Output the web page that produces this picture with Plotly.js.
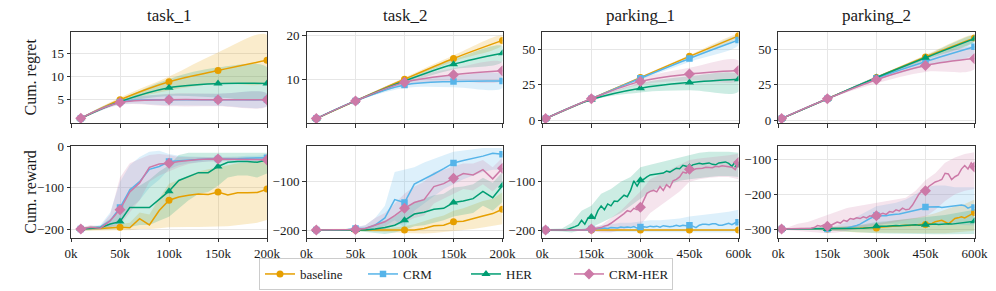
<!DOCTYPE html>
<html><head><meta charset="utf-8">
<script src="https://cdn.plot.ly/plotly-3.0.1.min.js"></script>
<style>html,body{margin:0;padding:0;background:#fff}#chart{width:996px;height:291px}</style>
</head><body><div id="chart"></div>
<script>
// ---------- categories / labels ----------
const seriesNames = ['baseline', 'CRM', 'HER', 'CRM-HER'];
const panelTitles = ['task_1', 'task_2', 'parking_1', 'parking_2'];
const rowLabels = ['Cum. regret', 'Cum. reward'];
const taskTicks = [0, 50, 100, 150, 200];
const taskTickText = ['0k', '50k', '100k', '150k', '200k'];
const parkTicks = [0, 150, 300, 450, 600];
const parkTickText = ['0k', '150k', '300k', '450k', '600k'];
const t1RegretTicks = [5, 10, 15];
const t2RegretTicks = [10, 20];
const parkRegretTicks = [0, 25, 50];
const taskRewardTicks1 = [-200, -100, 0];
const taskRewardTicks2 = [-200, -100];
const park1RewardTicks = [-200, -100];
const park2RewardTicks = [-300, -200, -100];

// ---------- x grids (thousands of steps) ----------
const xTaskMarks = [10, 50, 100, 150, 200];
const xParkMarks = [10, 150, 300, 450, 600];
const xTask = [10,20,30,40,50,60,70,80,90,100,110,120,130,140,150,160,170,180,190,200];
const xPark = [10,20,30,40,50,60,70,80,90,100,110,120,130,140,150,160,170,180,190,200,
  210,220,230,240,250,260,270,280,290,300,310,320,330,340,350,360,370,380,390,400,
  410,420,430,440,450,460,470,480,490,500,510,520,530,540,550,560,570,580,590,600];
const xParkBand = [10,30,60,90,120,150,180,210,240,270,300,330,360,390,420,450,480,510,540,570,600];

// ---------- task_1 regret ----------
const t1gBase = [1, 5, 8.9, 11.3, 13.5];
const t1gBaseLo = [0.8, 4.5, 7.0, 8.5, 9.0];
const t1gBaseHi = [1.2, 5.5, 10.0, 15.2, 19.0];
const t1gCrm = [1, 4.5, 5.0, 5.0, 5.0];
const t1gCrmLo = [0.8, 4.0, 3.8, 3.7, 3.7];
const t1gCrmHi = [1.2, 5.0, 6.2, 6.3, 6.3];
const t1gHer = [1, 4.6, 7.6, 8.5, 8.5];
const t1gHerLo = [0.8, 4.2, 5.8, 5.5, 5.5];
const t1gHerHi = [1.2, 5.0, 9.5, 12.0, 12.0];
const t1gCh = [1, 4.4, 5.0, 5.0, 5.0];
const t1gChLo = [0.8, 3.9, 3.6, 3.6, 3.6];
const t1gChHi = [1.2, 4.9, 6.3, 6.3, 6.3];

// ---------- task_2 regret ----------
const t2gBase = [1.1, 5.1, 10.0, 14.7, 18.8];
const t2gBaseLo = [1.0, 4.9, 9.6, 14.0, 17.8];
const t2gBaseHi = [1.2, 5.3, 10.4, 15.4, 19.8];
const t2gCrm = [1.1, 5.1, 8.7, 9.5, 9.6];
const t2gCrmLo = [1.0, 4.9, 8.0, 8.2, 8.0];
const t2gCrmHi = [1.2, 5.3, 9.5, 10.8, 11.0];
const t2gHer = [1.1, 5.1, 9.6, 13.4, 15.9];
const t2gHerLo = [1.0, 4.9, 9.0, 12.2, 14.0];
const t2gHerHi = [1.2, 5.3, 10.2, 14.5, 17.5];
const t2gCh = [1.1, 5.1, 9.3, 11.0, 11.9];
const t2gChLo = [1.0, 4.9, 8.6, 9.5, 9.8];
const t2gChHi = [1.2, 5.3, 10.0, 12.5, 13.8];

// ---------- parking_1 regret ----------
const p1gBase = [1, 15, 30, 45, 59.5];
const p1gBaseLo = [0.8, 14.6, 29.3, 44.0, 58.5];
const p1gBaseHi = [1.2, 15.4, 30.7, 46.0, 60.5];
const p1gCrm = [1, 15, 29.5, 43.5, 56.5];
const p1gCrmLo = [0.8, 14.5, 28.5, 41.0, 53.0];
const p1gCrmHi = [1.2, 15.5, 30.5, 45.0, 59.0];
const p1gHer = [1, 14.5, 22.5, 26.5, 28.8];
const p1gHerLo = [0.8, 14.0, 19.5, 21.0, 20.0];
const p1gHerHi = [1.2, 15.0, 26.0, 31.0, 32.0];
const p1gCh = [1, 15, 27.3, 32.5, 35.0];
const p1gChLo = [0.8, 14.5, 25.0, 28.0, 28.0];
const p1gChHi = [1.2, 15.5, 29.5, 37.0, 42.0];

// ---------- parking_2 regret ----------
const p2gBase = [1, 15, 30, 44.5, 58.0];
const p2gBaseLo = [0.8, 14.6, 29.2, 43.0, 56.0];
const p2gBaseHi = [1.2, 15.4, 30.8, 46.0, 60.0];
const p2gCrm = [1, 15, 29.5, 41.3, 51.8];
const p2gCrmLo = [0.8, 14.5, 28.0, 38.0, 47.0];
const p2gCrmHi = [1.2, 15.5, 31.0, 44.0, 56.0];
const p2gHer = [1, 15, 30, 44.0, 57.5];
const p2gHerLo = [0.8, 14.6, 29.2, 42.5, 55.5];
const p2gHerHi = [1.2, 15.4, 30.8, 45.5, 59.5];
const p2gCh = [1, 15, 28.5, 38.5, 43.4];
const p2gChLo = [0.8, 14.5, 26.0, 34.0, 36.0];
const p2gChHi = [1.2, 15.5, 31.0, 43.0, 51.0];

// ---------- task_1 reward ----------
const t1rBase = [-200,-198,-199,-198,-196,-197,-175,-190,-155,-130,-122,-118,-115,-116,-110,-117,-112,-112,-111,-103];
const t1rBaseLo = [-205,-204,-203,-203,-203,-203,-200,-200,-198,-196,-195,-195,-195,-195,-194,-193,-190,-188,-185,-178];
const t1rBaseHi = [-195,-194,-194,-192,-188,-185,-160,-165,-125,-90,-80,-70,-60,-55,-50,-45,-40,-38,-35,-30];
const t1rCrm = [-200,-198,-195,-180,-148,-105,-85,-55,-48,-36,-34,-32,-31,-30,-30,-30,-29,-28,-28,-27];
const t1rCrmLo = [-203,-202,-200,-195,-185,-150,-130,-100,-80,-55,-45,-40,-38,-36,-35,-35,-35,-34,-34,-33];
const t1rCrmHi = [-197,-194,-190,-160,-85,-45,-25,-12,-10,-18,-22,-24,-25,-25,-25,-25,-24,-22,-22,-20];
const t1rHer = [-200,-198,-197,-188,-182,-148,-148,-148,-128,-108,-82,-72,-63,-63,-48,-38,-36,-36,-38,-32];
const t1rHerLo = [-204,-203,-202,-200,-198,-195,-190,-190,-180,-170,-150,-130,-115,-110,-95,-75,-70,-70,-75,-65];
const t1rHerHi = [-196,-194,-192,-175,-160,-100,-95,-80,-60,-45,-20,-15,-15,-15,-15,-15,-15,-15,-15,-15];
const t1rCh = [-200,-196,-198,-180,-153,-110,-88,-50,-42,-40,-36,-33,-31,-30,-30,-30,-30,-30,-31,-32];
const t1rChLo = [-203,-201,-201,-195,-190,-160,-130,-85,-70,-60,-50,-42,-38,-36,-35,-35,-35,-35,-36,-38];
const t1rChHi = [-197,-190,-194,-165,-75,-40,-30,-20,-18,-20,-25,-25,-25,-25,-25,-25,-25,-25,-26,-26];

// ---------- task_2 reward ----------
const t2rBase = [-200,-200,-200,-200,-200,-200,-200,-200,-200,-200,-200,-197,-191,-190,-183,-182,-176,-171,-166,-157];
const t2rBaseLo = [-202,-202,-202,-202,-202,-202,-203,-204,-205,-206,-207,-207,-206,-205,-202,-200,-198,-195,-192,-188];
const t2rBaseHi = [-198,-198,-198,-198,-198,-198,-197,-196,-195,-192,-188,-182,-175,-170,-160,-155,-148,-140,-135,-122];
const t2rCrm = [-200,-200,-200,-200,-197,-197,-190,-175,-137,-143,-105,-95,-84,-73,-61,-56,-52,-47,-41,-43];
const t2rCrmLo = [-202,-202,-202,-202,-200,-200,-198,-192,-180,-195,-160,-145,-130,-115,-105,-95,-88,-80,-75,-75];
const t2rCrmHi = [-198,-198,-198,-198,-193,-190,-175,-150,-80,-75,-70,-60,-52,-45,-38,-35,-32,-30,-30,-30];
const t2rHer = [-200,-200,-200,-200,-200,-200,-198,-195,-190,-180,-167,-163,-157,-155,-143,-140,-135,-120,-133,-108];
const t2rHerLo = [-202,-202,-202,-202,-202,-204,-206,-208,-205,-200,-192,-190,-185,-180,-172,-168,-165,-150,-160,-142];
const t2rHerHi = [-198,-198,-198,-198,-198,-195,-188,-180,-172,-158,-142,-135,-128,-125,-112,-110,-105,-92,-102,-80];
const t2rCh = [-200,-200,-200,-200,-199,-197,-190,-183,-170,-155,-143,-137,-110,-104,-93,-83,-86,-75,-94,-72];
const t2rChLo = [-202,-202,-202,-202,-202,-202,-200,-198,-192,-185,-175,-170,-145,-135,-125,-115,-118,-105,-120,-100];
const t2rChHi = [-198,-198,-198,-198,-195,-190,-175,-165,-145,-125,-110,-100,-80,-75,-68,-62,-62,-55,-70,-50];

// ---------- parking_1 reward ----------
const p1rBase = [-200,-200,-200,-200,-200,-200,-200,-200,-200,-200,-200,-200,-200,-200,-200,-200,-200,-200,-200,-200,
  -200,-200,-200,-200,-200,-200,-200,-200,-200,-200,-200,-200,-200,-200,-200,-200,-200,-200,-200,-200,
  -200,-200,-200,-200,-200,-200,-200,-200,-200,-200,-200,-200,-200,-200,-200,-200,-200,-200,-200,-200];
const p1rBaseLo = [-201,-201,-201,-201,-201,-201,-201,-201,-201,-201,-201,-201,-201,-201,-201,-201,-201,-201,-201,-201,-201];
const p1rBaseHi = [-199,-199,-199,-199,-199,-199,-199,-199,-199,-199,-199,-199,-199,-199,-199,-199,-199,-199,-199,-199,-199];
const p1rCrm = [-200,-200,-200,-200,-200,-200,-200,-200,-200,-200,-200,-200,-200,-200,-198,-198,-198,-197,-196,-197,
  -195,-195,-196,-194,-195,-194,-195,-193,-196,-194,-193,-194,-192,-193,-192,-194,-191,-192,-193,-192,
  -190,-192,-190,-191,-190,-192,-195,-190,-188,-188,-189,-187,-187,-190,-190,-188,-186,-189,-185,-184];
const p1rCrmLo = [-202,-202,-202,-202,-202,-202,-203,-204,-204,-205,-205,-205,-205,-205,-205,-205,-205,-205,-205,-205,-205];
const p1rCrmHi = [-198,-198,-198,-198,-198,-195,-190,-188,-185,-185,-182,-180,-180,-178,-176,-172,-170,-168,-165,-162,-158];
const p1rHer = [-200,-200,-200,-200,-200,-200,-200,-198,-196,-193,-190,-180,-188,-175,-173,-176,-160,-150,-158,-146,
  -150,-140,-141,-135,-128,-131,-118,-98,-109,-97,-95,-90,-86,-85,-84,-83,-82,-78,-80,-76,
  -72,-73,-66,-68,-70,-65,-64,-62,-63,-62,-61,-64,-65,-61,-60,-59,-62,-68,-59,-66];
const p1rHerLo = [-202,-202,-203,-205,-200,-195,-185,-175,-165,-150,-135,-120,-112,-105,-98,-95,-92,-90,-88,-88,-90];
const p1rHerHi = [-198,-198,-197,-185,-160,-150,-125,-115,-100,-90,-70,-65,-60,-55,-50,-45,-40,-38,-38,-38,-40];
const p1rCh = [-200,-200,-200,-200,-200,-200,-200,-200,-200,-200,-200,-200,-200,-198,-198,-197,-196,-195,-192,-190,
  -186,-181,-176,-172,-166,-160,-162,-155,-158,-153,-140,-124,-120,-118,-121,-110,-118,-106,-112,-98,
  -95,-90,-80,-82,-74,-76,-73,-73,-72,-70,-70,-71,-68,-69,-67,-68,-68,-70,-75,-60];
const p1rChLo = [-202,-202,-202,-202,-202,-202,-205,-205,-200,-195,-190,-165,-150,-135,-120,-100,-95,-92,-90,-90,-95];
const p1rChHi = [-198,-198,-198,-198,-198,-195,-190,-175,-160,-140,-120,-95,-85,-75,-65,-55,-52,-50,-48,-45,-42];

// ---------- parking_2 reward ----------
const p2rBase = [-300,-300,-300,-300,-300,-300,-300,-300,-300,-300,-300,-300,-300,-300,-300,-300,-300,-300,-300,-300,
  -299,-299,-298,-298,-298,-297,-297,-296,-296,-297,-295,-294,-293,-292,-291,-290,-291,-290,-289,-290,
  -289,-288,-289,-288,-287,-286,-284,-279,-277,-275,-280,-285,-278,-270,-268,-265,-268,-262,-258,-253];
const p2rBaseLo = [-302,-302,-302,-303,-303,-305,-306,-308,-310,-310,-312,-312,-312,-312,-312,-312,-312,-312,-310,-308,-305];
const p2rBaseHi = [-298,-298,-298,-297,-297,-295,-294,-292,-290,-288,-285,-280,-275,-272,-268,-262,-255,-245,-235,-228,-215];
const p2rCrm = [-300,-300,-300,-300,-300,-300,-300,-300,-300,-300,-300,-300,-300,-300,-300,-300,-300,-299,-299,-298,
  -297,-295,-292,-290,-286,-280,-275,-270,-266,-261,-262,-263,-262,-260,-260,-258,-257,-255,-253,-252,
  -250,-246,-245,-242,-237,-237,-236,-235,-236,-238,-237,-236,-235,-233,-233,-231,-233,-240,-236,-238];
const p2rCrmLo = [-302,-302,-302,-302,-303,-303,-305,-305,-300,-295,-288,-285,-285,-285,-285,-285,-285,-285,-288,-290,-290];
const p2rCrmHi = [-298,-298,-298,-298,-297,-297,-290,-280,-265,-250,-235,-230,-225,-215,-200,-180,-175,-175,-180,-180,-180];
const p2rHer = [-300,-300,-300,-300,-300,-300,-300,-300,-300,-300,-300,-300,-300,-300,-300,-300,-300,-300,-300,-300,
  -300,-300,-299,-299,-298,-298,-297,-297,-296,-292,-293,-292,-292,-291,-291,-290,-291,-290,-290,-289,
  -289,-288,-289,-288,-288,-287,-287,-286,-287,-286,-286,-285,-286,-285,-285,-284,-283,-281,-280,-278];
const p2rHerLo = [-302,-302,-302,-302,-303,-304,-305,-306,-308,-310,-312,-313,-314,-315,-315,-315,-315,-315,-315,-315,-314];
const p2rHerHi = [-298,-298,-298,-298,-297,-296,-295,-293,-290,-285,-280,-278,-275,-272,-270,-268,-265,-260,-255,-250,-245];
const p2rCh = [-300,-300,-300,-300,-300,-300,-300,-300,-298,-298,-296,-290,-292,-288,-292,-290,-285,-280,-283,-275,
  -278,-270,-272,-268,-270,-265,-268,-262,-265,-262,-258,-255,-258,-250,-252,-245,-248,-240,-245,-243,
  -232,-215,-200,-190,-190,-178,-172,-165,-162,-158,-140,-142,-158,-150,-145,-128,-118,-128,-110,-122];
const p2rChLo = [-302,-302,-304,-306,-310,-312,-310,-305,-300,-295,-290,-285,-280,-275,-270,-265,-245,-220,-200,-190,-185];
const p2rChHi = [-298,-295,-285,-280,-270,-260,-250,-240,-235,-230,-225,-220,-215,-210,-190,-160,-140,-110,-95,-85,-80];

// ---------- styles ----------
const FONT = 'Liberation Serif';
const INK = '#1a1a1a';
const AXC = '#333333';
const colors = ['#E69F00', '#56B4E9', '#009E73', '#CC79A7'];
const fills = ['rgba(230,159,0,0.2)', 'rgba(86,180,233,0.2)', 'rgba(0,158,115,0.2)', 'rgba(204,121,167,0.2)'];
const symbols = ['circle', 'square', 'triangle-up', 'diamond'];
const msizes = [7, 6.5, 8, 8.5];

const panels = [
  {n:1, x:xTaskMarks, bx:xTaskMarks, mk:xTaskMarks, shape:'spline', s:[[t1gBase,t1gBaseLo,t1gBaseHi],[t1gCrm,t1gCrmLo,t1gCrmHi],[t1gHer,t1gHerLo,t1gHerHi],[t1gCh,t1gChLo,t1gChHi]]},
  {n:2, x:xTaskMarks, bx:xTaskMarks, mk:xTaskMarks, shape:'spline', s:[[t2gBase,t2gBaseLo,t2gBaseHi],[t2gCrm,t2gCrmLo,t2gCrmHi],[t2gHer,t2gHerLo,t2gHerHi],[t2gCh,t2gChLo,t2gChHi]]},
  {n:3, x:xParkMarks, bx:xParkMarks, mk:xParkMarks, shape:'spline', s:[[p1gBase,p1gBaseLo,p1gBaseHi],[p1gCrm,p1gCrmLo,p1gCrmHi],[p1gHer,p1gHerLo,p1gHerHi],[p1gCh,p1gChLo,p1gChHi]]},
  {n:4, x:xParkMarks, bx:xParkMarks, mk:xParkMarks, shape:'spline', s:[[p2gBase,p2gBaseLo,p2gBaseHi],[p2gCrm,p2gCrmLo,p2gCrmHi],[p2gHer,p2gHerLo,p2gHerHi],[p2gCh,p2gChLo,p2gChHi]]},
  {n:5, x:xTask, bx:xTask, mk:xTaskMarks, shape:'linear', s:[[t1rBase,t1rBaseLo,t1rBaseHi],[t1rCrm,t1rCrmLo,t1rCrmHi],[t1rHer,t1rHerLo,t1rHerHi],[t1rCh,t1rChLo,t1rChHi]]},
  {n:6, x:xTask, bx:xTask, mk:xTaskMarks, shape:'linear', s:[[t2rBase,t2rBaseLo,t2rBaseHi],[t2rCrm,t2rCrmLo,t2rCrmHi],[t2rHer,t2rHerLo,t2rHerHi],[t2rCh,t2rChLo,t2rChHi]]},
  {n:7, x:xPark, bx:xParkBand, mk:xParkMarks, shape:'linear', s:[[p1rBase,p1rBaseLo,p1rBaseHi],[p1rCrm,p1rCrmLo,p1rCrmHi],[p1rHer,p1rHerLo,p1rHerHi],[p1rCh,p1rChLo,p1rChHi]]},
  {n:8, x:xPark, bx:xParkBand, mk:xParkMarks, shape:'linear', s:[[p2rBase,p2rBaseLo,p2rBaseHi],[p2rCrm,p2rCrmLo,p2rCrmHi],[p2rHer,p2rHerLo,p2rHerHi],[p2rCh,p2rChLo,p2rChHi]]}
];

const traces = [];
// legend entries
seriesNames.forEach((nm, i) => {
  traces.push({x:[null], y:[null], type:'scatter', mode:'lines+markers', name:nm,
    line:{color:colors[i], width:1.5}, marker:{color:colors[i], symbol:symbols[i], size:msizes[i]},
    xaxis:'x', yaxis:'y', hoverinfo:'skip'});
});

panels.forEach(p => {
  const xa = 'x' + (p.n === 1 ? '' : p.n), ya = 'y' + (p.n === 1 ? '' : p.n);
  p.s.forEach((s, i) => {
    const lo = s[1], hi = s[2];
    traces.push({type:'scatter', mode:'lines', xaxis:xa, yaxis:ya, showlegend:false, hoverinfo:'skip',
      x: p.bx.concat(p.bx.slice().reverse()), y: hi.concat(lo.slice().reverse()),
      fill:'toself', fillcolor:fills[i], line:{width:0, shape:p.shape}});
  });
  p.s.forEach((s, i) => {
    const y = s[0];
    traces.push({type:'scatter', mode:'lines', xaxis:xa, yaxis:ya, showlegend:false,
      x:p.x, y:y, line:{color:colors[i], width:1.5, shape:p.shape}, name:seriesNames[i]});
    const mx = [], my = [];
    p.mk.forEach(v => { const k = p.x.indexOf(v); if (k >= 0) { mx.push(v); my.push(y[k]); } });
    traces.push({type:'scatter', mode:'markers', xaxis:xa, yaxis:ya, showlegend:false,
      x:mx, y:my, marker:{color:colors[i], symbol:symbols[i], size:msizes[i]}, name:seriesNames[i]});
  });
});

const W = 996, H = 291;
const colPx = [[71, 267], [306.5, 502.5], [542.3, 738.5], [778.3, 974.5]];
const rowPx = [[32, 123], [146, 237.5]];
const xDom = colPx.map(c => [c[0] / W, c[1] / W]);
const yDom = rowPx.map(r => [1 - r[1] / H, 1 - r[0] / H]);

const baseAx = {showgrid:true, gridcolor:'#e6e6e6', gridwidth:1, showline:true, linecolor:AXC, linewidth:1,
  mirror:true, ticks:'outside', ticklen:3.5, tickwidth:1, tickcolor:AXC, zeroline:false,
  tickfont:{family:FONT, size:13, color:INK}, fixedrange:true};

const yRanges = [[0, 19.6], [0.1, 20.7], [-2.1, 62.2], [-2.1, 62.2], [-220.6, 1.7], [-215.5, -26], [-215.5, -26], [-324.4, -61.8]];
const yTicks = [t1RegretTicks, t2RegretTicks, parkRegretTicks, parkRegretTicks, taskRewardTicks1, taskRewardTicks2, park1RewardTicks, park2RewardTicks];

const layout = {width:W, height:H, margin:{l:0, r:0, t:0, b:0}, paper_bgcolor:'#fff', plot_bgcolor:'#fff',
  font:{family:FONT, color:INK}, showlegend:true,
  legend:{orientation:'h', x:259 / W, xanchor:'left', y:1 - 258 / H, yanchor:'top',
    bordercolor:'#cccccc', borderwidth:1, bgcolor:'#fff', font:{family:FONT, size:13, color:INK},
    itemwidth:30, entrywidth:58, tracegroupgap:0},
  annotations:[]};

for (let n = 1; n <= 8; n++) {
  const col = (n - 1) % 4, row = n <= 4 ? 0 : 1;
  const isTask = col < 2;
  const key = n === 1 ? '' : n;
  layout['xaxis' + key] = Object.assign({}, baseAx, {domain:xDom[col], anchor:'y' + key,
    range: isTask ? [0, 200] : [0, 600], tickmode:'array', tickvals: isTask ? taskTicks : parkTicks,
    ticktext: isTask ? taskTickText : parkTickText, showticklabels: row === 1});
  layout['yaxis' + key] = Object.assign({}, baseAx, {domain:yDom[row], anchor:'x' + key,
    range:yRanges[n - 1], tickmode:'array', tickvals:yTicks[n - 1]});
}

panelTitles.forEach((t, i) => {
  layout.annotations.push({text:t, xref:'paper', yref:'paper', x:(colPx[i][0] + colPx[i][1]) / 2 / W,
    y:1 - 15 / H, xanchor:'center', yanchor:'middle', showarrow:false, font:{family:FONT, size:17, color:INK}});
});
rowLabels.forEach((t, i) => {
  layout.annotations.push({text:t, xref:'paper', yref:'paper', x:31 / W,
    y:1 - (rowPx[i][0] + rowPx[i][1]) / 2 / H, xanchor:'center', yanchor:'middle', textangle:-90,
    showarrow:false, font:{family:FONT, size:16, color:INK}});
});

Plotly.newPlot('chart', traces, layout, {staticPlot:true, displayModeBar:false});
</script>
</body></html>
